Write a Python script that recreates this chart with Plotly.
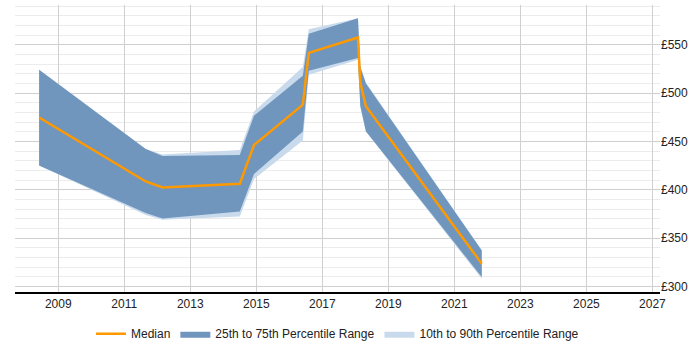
import plotly.graph_objects as go

years = [2008.42, 2011.65, 2012.16, 2014.50, 2014.93, 2016.41, 2016.59, 2018.08, 2018.15, 2018.32, 2021.83]
median = [474.8, 408.6, 402.4, 406.2, 446.3, 488.0, 541.7, 557.6, 511.0, 486.5, 323.5]
p25 = [425.2, 375.9, 370.3, 377.6, 416.3, 460.3, 523.1, 536.3, 487.0, 460.5, 309.7]
p75 = [524.2, 442.1, 434.9, 436.0, 476.6, 518.0, 561.4, 577.6, 527.0, 510.0, 337.2]
p10 = [425.2, 374.0, 369.0, 372.4, 411.1, 451.0, 519.0, 534.5, 486.0, 460.0, 308.0]
p90 = [524.2, 442.1, 436.6, 441.1, 481.0, 527.0, 566.2, 577.6, 528.0, 511.0, 337.5]

x_ticks = [2009, 2011, 2013, 2015, 2017, 2019, 2021, 2023, 2025, 2027]
y_ticks = [300, 350, 400, 450, 500, 550]

light = "rgb(200,218,236)"
dark = "rgb(112,150,190)"
orange = "#FF9900"

fig = go.Figure()
fig.add_trace(go.Scatter(x=years, y=p10, mode="lines", line=dict(width=0, color=light),
                         showlegend=False, hoverinfo="skip"))
fig.add_trace(go.Scatter(x=years, y=p90, mode="lines", line=dict(width=0, color=light),
                         fill="tonexty", fillcolor=light, name="10th to 90th Percentile Range",
                         legendrank=3))
fig.add_trace(go.Scatter(x=years, y=p25, mode="lines", line=dict(width=0, color=dark),
                         showlegend=False, hoverinfo="skip"))
fig.add_trace(go.Scatter(x=years, y=p75, mode="lines", line=dict(width=0, color=dark),
                         fill="tonexty", fillcolor=dark, name="25th to 75th Percentile Range",
                         legendrank=2))
fig.add_trace(go.Scatter(x=years, y=median, mode="lines", line=dict(width=2.5, color=orange),
                         name="Median", legendrank=1))

fig.update_layout(
    width=700, height=350,
    margin=dict(l=15, r=40, t=5, b=58, autoexpand=False),
    paper_bgcolor="white", plot_bgcolor="white",
    font=dict(family="Liberation Sans, Arial, sans-serif", size=12, color="#222"),
    showlegend=True,
    legend=dict(orientation="h", x=0.5, xanchor="center", y=-0.095, yanchor="top",
                font=dict(size=12), itemwidth=30, traceorder="normal"),
    xaxis=dict(range=[2007.69, 2027.23], tickmode="array", tickvals=x_ticks,
               ticktext=[str(v) for v in x_ticks],
               showgrid=True, gridcolor="#d0d0d0", gridwidth=1,
               showline=True, linecolor="black", linewidth=1.5,
               ticks="", zeroline=False, automargin=False),
    yaxis=dict(range=[294.2, 591.2], side="right", tickmode="array", tickvals=y_ticks,
               ticktext=["£%d" % v for v in y_ticks],
               showgrid=True, gridcolor="#cfcfcf", gridwidth=1,
               minor=dict(dtick=10, showgrid=True, gridcolor="#ececec", gridwidth=1),
               showline=False, ticks="", zeroline=False, automargin=False),
)

fig.write_html("out.html")
